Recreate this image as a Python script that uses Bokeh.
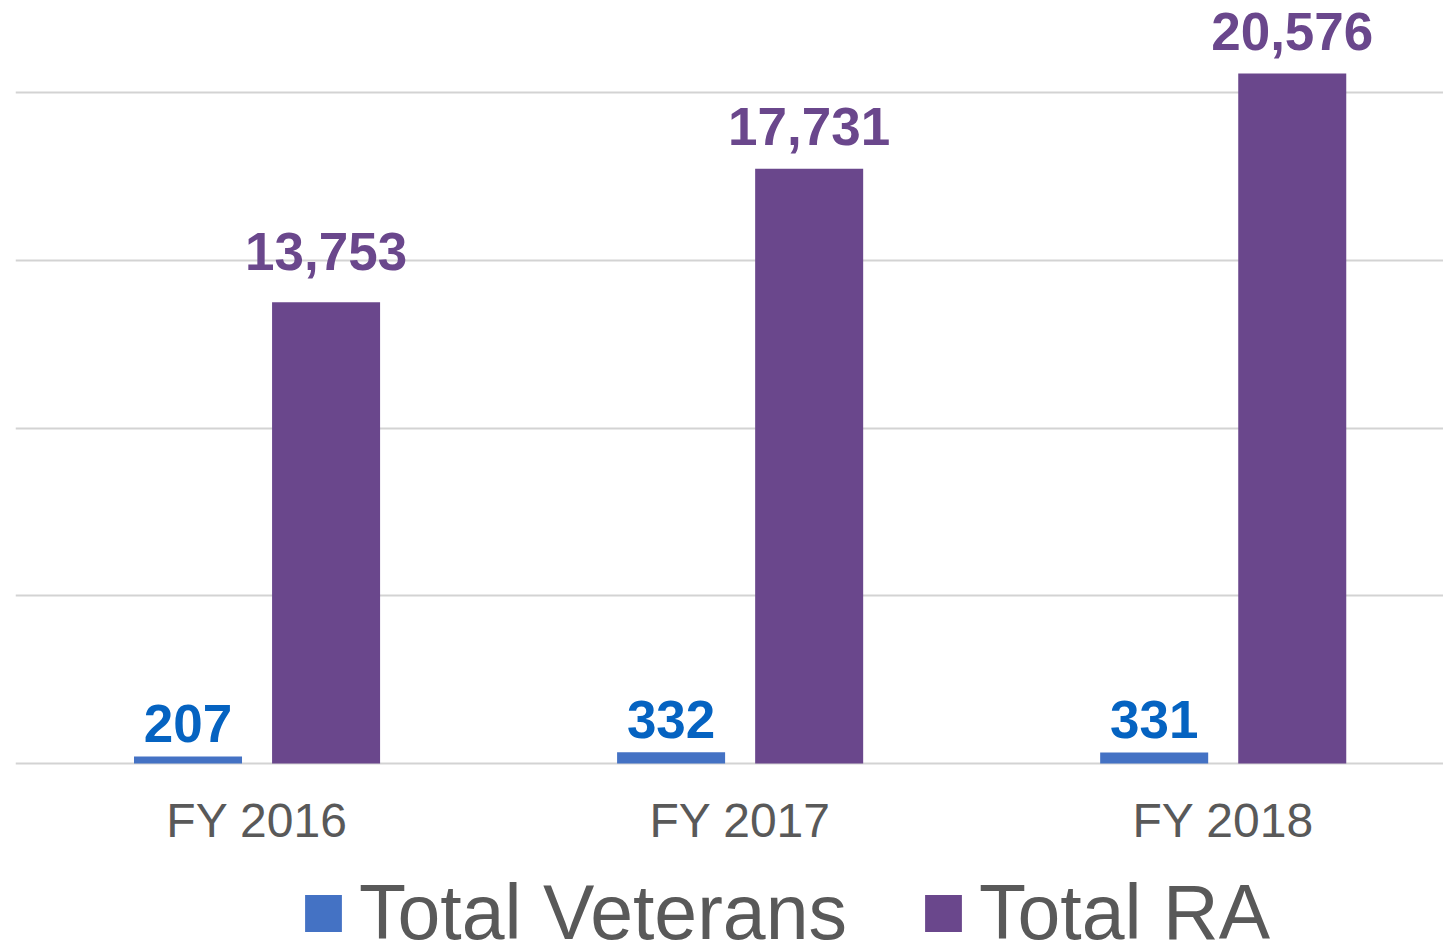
from bokeh.plotting import figure
from bokeh.models import ColumnDataSource, LabelSet, Legend, LegendItem, FixedTicker
from bokeh.core.properties import value
from bokeh.embed import file_html
from bokeh.resources import INLINE

# ---- data ----
categories = ["FY 2016", "FY 2017", "FY 2018"]
total_veterans = [207, 332, 331]
total_ra = [13753, 17731, 20576]
y_ticks = [0, 5000, 10000, 15000, 20000]
series_names = ["Total Veterans", "Total RA"]

# ---- style ----
FONT = "Liberation Sans"
VET_BAR = "#4472C4"
VET_LABEL = "#0563C1"
RA_COLOR = "#6A478C"
TEXT_GREY = "#595959"
GRID = "#D3D3D3"

group_offset = 0.1429
bar_width = 0.2236
vet_label_offsets = [15, 14, 14]
ra_label_offsets = [32, 24, 23]

centers = [i + 0.5 for i in range(len(categories))]
vet_x = [c - group_offset for c in centers]
ra_x = [c + group_offset for c in centers]

# frame covers the whole canvas; value 0 sits 182px above the bottom edge
p = figure(width=1443, height=945, output_backend="svg", toolbar_location=None,
           x_range=(0, 2.956), y_range=(-5427, 22751),
           min_border_left=15, min_border_right=0, min_border_top=0, min_border_bottom=0)

vet_src = ColumnDataSource(dict(x=vet_x, top=total_veterans,
                                text=[f"{v:,}" for v in total_veterans], off=vet_label_offsets))
ra_src = ColumnDataSource(dict(x=ra_x, top=total_ra,
                               text=[f"{v:,}" for v in total_ra], off=ra_label_offsets))

r_vet = p.vbar(x="x", top="top", width=bar_width, bottom=0, source=vet_src,
               fill_color=VET_BAR, line_color=None)
r_ra = p.vbar(x="x", top="top", width=bar_width, bottom=0, source=ra_src,
              fill_color=RA_COLOR, line_color=None)

for src, col in ((vet_src, VET_LABEL), (ra_src, RA_COLOR)):
    p.add_layout(LabelSet(x="x", y="top", text="text", y_offset="off", source=src,
                          text_align="center", text_baseline="alphabetic",
                          text_font=value(FONT), text_font_style="bold",
                          text_font_size="53px", text_color=col))

# axes
p.yaxis.visible = False
p.xaxis.fixed_location = 0
p.xaxis.ticker = FixedTicker(ticks=centers)
p.xaxis.major_label_overrides = {c: lab for c, lab in zip(centers, categories)}
p.xaxis.axis_line_color = None
p.xaxis.major_tick_line_color = None
p.xaxis.minor_tick_line_color = None
p.xaxis.major_label_text_font = FONT
p.xaxis.major_label_text_font_size = "48px"
p.xaxis.major_label_text_color = TEXT_GREY
p.xaxis.major_label_standoff = 25

p.xgrid.visible = False
p.ygrid.ticker = FixedTicker(ticks=y_ticks)
p.ygrid.grid_line_color = GRID
p.ygrid.grid_line_width = 2
p.outline_line_color = None

legend = Legend(items=[LegendItem(label=series_names[0], renderers=[r_vet]),
                       LegendItem(label=series_names[1], renderers=[r_ra])],
                location=(285, -12), orientation="horizontal",
                glyph_width=46, glyph_height=46, label_standoff=13, spacing=73,
                label_text_font=FONT, label_text_font_size="77px",
                label_text_color=TEXT_GREY, border_line_color=None,
                background_fill_alpha=0, padding=0, margin=0)
p.add_layout(legend, "center")

open("out.html", "w").write(file_html(p, INLINE))
